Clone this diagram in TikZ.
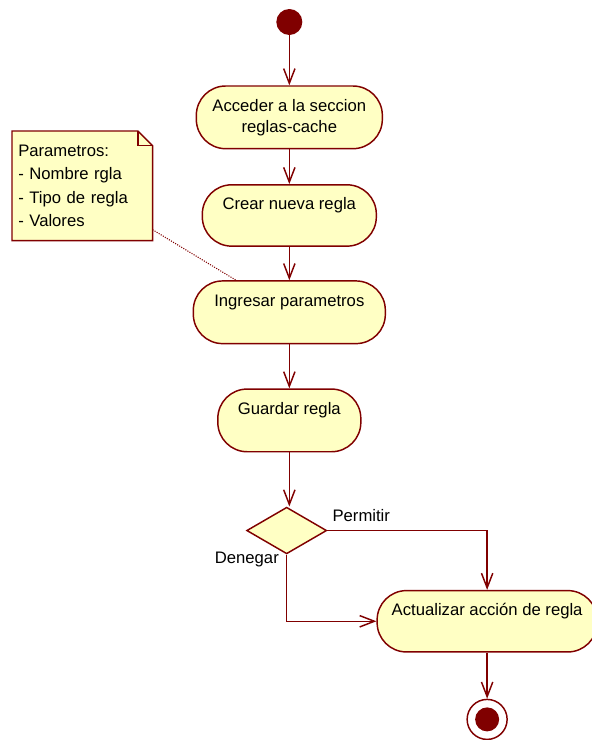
\documentclass[tikz,border=0pt]{standalone}
\usepackage{fontspec}
\setmainfont{Liberation Sans}
\usepackage{xcolor}
\usepackage{tikz}
\usetikzlibrary{positioning, shapes.geometric, arrows.meta, backgrounds}

\definecolor{umlred}{HTML}{800000}
\definecolor{umlfill}{HTML}{FFFFC4}

\begin{document}
\begin{tikzpicture}[
        font=\fontsize{12.5}{15.75}\selectfont,
        action/.style={rectangle, draw=umlred, fill=umlfill, line width=1.1pt, rounded corners=22pt, minimum height=47pt, align=center, text centered},
        single/.style={text height=9pt, text depth=18pt},
        initial/.style={circle, fill=umlred, minimum size=19.5pt, inner sep=0pt},
        final/.style={circle, draw=umlred, fill=white, line width=1.1pt, minimum size=30pt, inner sep=0pt,
            path picture={\fill[umlred] (path picture bounding box.center) circle (9pt);}},
        decision/.style={diamond, draw=umlred, fill=umlfill, line width=1.1pt, minimum width=60pt, minimum height=35pt, inner sep=0pt},
        notebox/.style={draw=umlred, fill=umlfill, line width=1.1pt},
        flow/.style={draw=umlred, line width=1.1pt, -{Straight Barb[length=11pt, width=8.5pt]}},
        link/.style={draw=umlred, line width=0.8pt, densely dotted}
    ]
        \useasboundingbox (0,0) rectangle (444pt,-555pt);

        % Nodes
        \node (start) [initial] at (217pt,-16.5pt) {};
        \node (access) [action, minimum width=139.5pt, below=37.5pt of start] {Acceder a la seccion\\reglas-cache};
        \node (create) [action, single, minimum width=130.5pt, minimum height=46pt, below=26pt of access] {Crear nueva regla};
        \node (params) [action, single, minimum width=144pt, minimum height=47pt, below=25pt of create] {Ingresar parametros};
        \node (save) [action, single, minimum width=107.25pt, minimum height=47pt, below=33pt of params] {Guardar regla};
        \node (dec) [decision, below=40.5pt of save, xshift=-2pt] {};
        \node (update) [action, single, minimum width=165pt, minimum height=46pt, below right=44.5pt and 36.75pt of dec.east] {Actualizar acción de regla};
        \node (end) [final, below=34.5pt of update] {};

        % Note
        \node (note) [anchor=north west, minimum width=105pt, minimum height=81.75pt, text width=96pt, inner sep=4.5pt, align=left,
            font=\fontsize{12.5}{17.6}\selectfont] at (9pt,-98.25pt)
            {Parametros:\\- Nombre rgla\\- Tipo de regla\\- Valores};
        \begin{scope}[on background layer]
            \draw [notebox] (note.north west) -- ([xshift=-11pt]note.north east) -- ([yshift=-11pt]note.north east)
                -- (note.south east) -- (note.south west) -- cycle;
            \draw [notebox, fill=none] ([xshift=-11pt]note.north east) |- ([yshift=-11pt]note.north east);
        \end{scope}

        % Arrows
        \draw [flow] (start) -- (access);
        \draw [flow] (access) -- (create);
        \draw [flow] (create) -- (params);
        \draw [flow] (params) -- (save);
        \draw [flow] (save) -- (save |- dec.north);
        \draw [flow] (dec.east) -| node[pos=0, above right, yshift=3pt] {Permitir} (update.north);
        \draw [flow] (dec.south) |- node[pos=0, below left, xshift=-2pt, yshift=6pt] {Denegar} (update.west);
        \draw [flow] (update) -- (end);
        \draw [link] (note.-32) -- (params.149);
    \end{tikzpicture}
\end{document}
